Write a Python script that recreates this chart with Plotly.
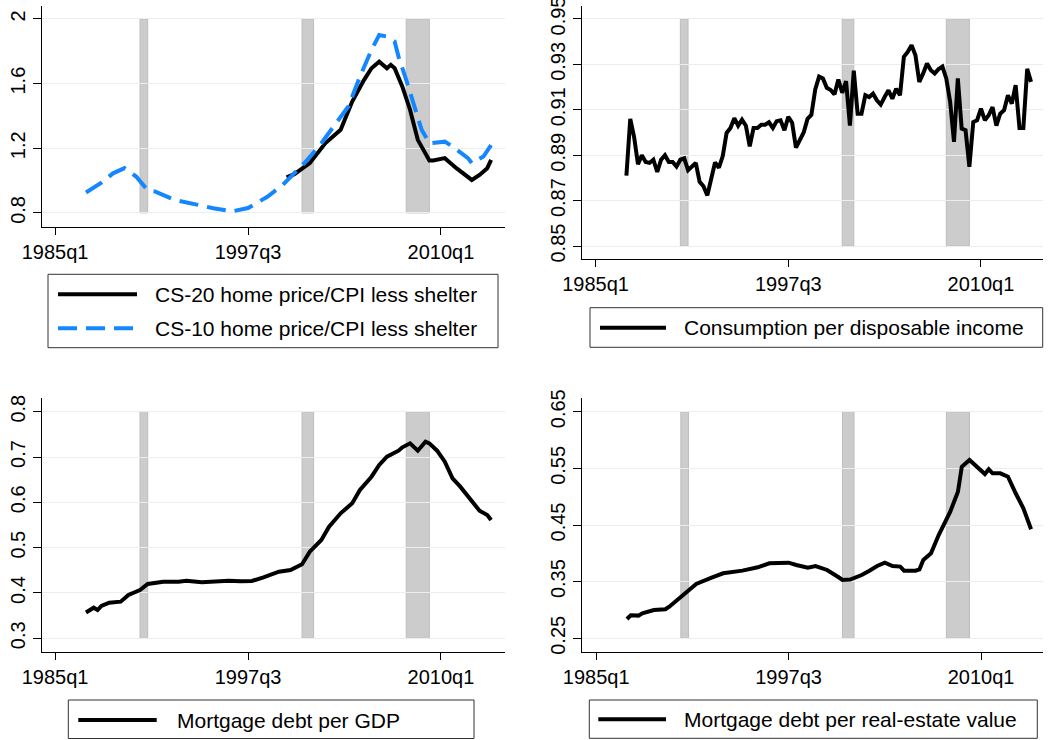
import plotly.graph_objects as go

W, H = 1059, 740
FONT = "Liberation Sans, Arial, Helvetica, sans-serif"

# ---------------- data (quarter index: 1960q1 = 0, so 1985q1 = 100) ----------------
tick_quarters = [100, 150, 200]
tick_labels = ["1985q1", "1997q3", "2010q1"]

# recessions (start quarter, end quarter): 1990q3-1991q1, 2001q1-2001q4, 2007q4-2009q2
rec_start = [122, 164, 191]
rec_end = [124, 167, 197]

# CS-10 home price / CPI less shelter
cs10_q = [108, 112, 115, 118, 121, 124, 126, 131, 137, 141, 146, 150, 155, 159, 162, 165,
          169, 172, 176, 179, 182, 184, 186, 188, 189, 191, 193, 195, 197, 201, 203, 207,
          208, 211, 213]
cs10_v = [0.926, 0.987, 1.045, 1.077, 1.025, 0.94, 0.932, 0.88, 0.85, 0.829, 0.81, 0.83,
          0.90, 0.973, 1.046, 1.118, 1.231, 1.324, 1.458, 1.643, 1.808, 1.901, 1.891, 1.86,
          1.767, 1.623, 1.458, 1.314, 1.231, 1.241, 1.21, 1.139, 1.108, 1.149, 1.22]

# CS-20 home price / CPI less shelter
cs20_q = [160, 162, 166, 170, 174, 177, 180, 182, 184, 186, 187, 188, 190, 192, 194, 195,
          197, 198, 201, 204, 208, 210, 212, 213]
cs20_v = [1.02, 1.04, 1.108, 1.231, 1.314, 1.489, 1.62, 1.695, 1.736, 1.695, 1.716, 1.695,
          1.581, 1.437, 1.252, 1.21, 1.124, 1.124, 1.139, 1.077, 1.004, 1.035, 1.077, 1.128]

# Consumption per disposable income (quarterly, 1987q1 - 2013q2)
cons_q = list(range(108, 214))
cons_v = [0.881, 0.906, 0.898, 0.886, 0.890, 0.887, 0.8866, 0.888, 0.8826, 0.888,
          0.890, 0.887, 0.887, 0.885, 0.888, 0.8886, 0.8834, 0.885, 0.8866, 0.8783,
          0.8763, 0.8723, 0.8788, 0.8868, 0.8845, 0.8896, 0.8998, 0.902, 0.9063, 0.903,
          0.9056, 0.903, 0.8939, 0.902, 0.902, 0.9034, 0.9034, 0.9045, 0.902, 0.905,
          0.9054, 0.901, 0.9069, 0.9043, 0.8933, 0.897, 0.900, 0.906, 0.9078, 0.919,
          0.9246, 0.9238, 0.9197, 0.9187, 0.9168, 0.9233, 0.9175, 0.9226, 0.903, 0.9272,
          0.9083, 0.9083, 0.9164, 0.9156, 0.9171, 0.9142, 0.9123, 0.9156, 0.9186, 0.9149,
          0.9193, 0.9164, 0.9333, 0.9355, 0.9384, 0.934, 0.9223, 0.926, 0.9304, 0.9274,
          0.926, 0.9279, 0.929, 0.9238, 0.9136, 0.8959, 0.9238, 0.9017, 0.901, 0.8849,
          0.9046, 0.9054, 0.9105, 0.9054, 0.9076, 0.9112, 0.903, 0.9083, 0.9098, 0.9164,
          0.9127, 0.9208, 0.902, 0.902, 0.928, 0.9223]

# Mortgage debt per GDP
mgdp_q = [108, 110, 111, 112, 114, 117, 119, 122, 124, 126, 128, 132, 134, 138, 141, 145,
          148, 151, 154, 158, 161, 164, 166, 169, 171, 174, 177, 179, 182, 184, 186, 189,
          190, 192, 194, 196, 197, 199, 201, 203, 205, 208, 210, 212, 213]
mgdp_v = [0.357, 0.3675, 0.3624, 0.3713, 0.3786, 0.3808, 0.3955, 0.4066, 0.4198, 0.4227,
          0.4249, 0.4249, 0.4271, 0.4235, 0.4257, 0.4271, 0.4257, 0.4264, 0.4345, 0.447,
          0.4507, 0.4632, 0.4911, 0.5169, 0.5463, 0.5758, 0.5979, 0.6272, 0.6566, 0.6824,
          0.7007, 0.714, 0.7214, 0.7302, 0.714, 0.7338, 0.7302, 0.714, 0.6897, 0.653,
          0.6346, 0.6015, 0.5816, 0.5721, 0.561]

# Mortgage debt per real-estate value
mre_q = [108, 109, 111, 112, 115, 118, 119, 121, 124, 126, 130, 133, 138, 142, 145, 150,
         152, 155, 157, 160, 163, 164, 166, 169, 171, 173, 175, 177, 179, 180, 183, 184,
         185, 187, 189, 192, 194, 195, 197, 198, 200, 201, 202, 203, 205, 207, 209, 211,
         213]
mre_v = [0.284, 0.2906, 0.290, 0.2941, 0.300, 0.3012, 0.3058, 0.3176, 0.3353, 0.3459,
         0.357, 0.3647, 0.3694, 0.3753, 0.3824, 0.3835, 0.3794, 0.3746, 0.3776, 0.3706,
         0.3577, 0.353, 0.3536, 0.3617, 0.3694, 0.3776, 0.3835, 0.3776, 0.3765, 0.3694,
         0.3694, 0.3718, 0.3882, 0.40, 0.4323, 0.4735, 0.5088, 0.5529, 0.5647, 0.5589,
         0.5459, 0.54, 0.5483, 0.5412, 0.5412, 0.5353, 0.506, 0.4795, 0.4424]

# y ticks per panel
yt1 = [0.8, 1.2, 1.6, 2.0]
yt1_lab = ["0.8", "1.2", "1.6", "2"]
yt2 = [0.85, 0.87, 0.89, 0.91, 0.93, 0.95]
yt2_lab = ["0.85", "0.87", "0.89", "0.91", "0.93", "0.95"]
yt3 = [0.3, 0.4, 0.5, 0.6, 0.7, 0.8]
yt3_lab = ["0.3", "0.4", "0.5", "0.6", "0.7", "0.8"]
yt4 = [0.25, 0.35, 0.45, 0.55, 0.65]
yt4_lab = ["0.25", "0.35", "0.45", "0.55", "0.65"]

# ---------------- styling ----------------
BLACK = "#000000"
BLUE = "#1487ff"
GRID = "#e6eff1"
REC_FILL = "#cccccc"
REC_LINE = "#bdbdbd"


def px_x(p):
    return p / W


def px_y(p):
    return 1 - p / H


fig = go.Figure()

panels = [
    ("x", "y", (42, 505), (6, 227), (96.6, 216.6), (0.713, 2.08), yt1, yt1_lab),
    ("x2", "y2", (581.7, 1043), (6, 259), (96.4, 216.1), (0.8443, 0.9557), yt2, yt2_lab),
    ("x3", "y3", (42, 505), (398.3, 651.7), (96.6, 216.6), (0.2704, 0.8296), yt3, yt3_lab),
    ("x4", "y4", (582.3, 1043), (398.3, 651.7), (96.4, 216.1), (0.2263, 0.6737), yt4, yt4_lab),
]

layout_axes = {}
shapes = []
for xa, ya, (xl, xr), (yt, yb), xrng, yrng, ytv, ytl in panels:
    xkey = "xaxis" + xa[1:]
    ykey = "yaxis" + ya[1:]
    layout_axes[xkey] = dict(
        domain=[px_x(xl), px_x(xr)], range=list(xrng), anchor=ya, automargin=False,
        tickvals=tick_quarters, ticktext=tick_labels, ticks="outside", ticklen=7,
        tickwidth=1, tickcolor=BLACK, showgrid=False, zeroline=False,
        showline=True, linecolor=BLACK, linewidth=1, ticklabeloverflow="allow",
        tickfont=dict(family=FONT, size=20, color=BLACK),
    )
    layout_axes[ykey] = dict(
        domain=[px_y(yb), px_y(yt)], range=list(yrng), anchor=xa, automargin=False,
        tickvals=ytv, ticktext=ytl, ticks="outside", ticklen=8, tickwidth=1,
        tickcolor=BLACK, showgrid=True, gridcolor=GRID, gridwidth=1, zeroline=False,
        showline=True, linecolor=BLACK, linewidth=1, tickangle=-90,
        ticklabeloverflow="allow",
        tickfont=dict(family=FONT, size=20, color=BLACK),
    )
    for s, e in zip(rec_start, rec_end):
        shapes.append(dict(type="rect", xref=xa, yref=ya, x0=s, x1=e, y0=min(ytv), y1=max(ytv),
                           fillcolor=REC_FILL, line=dict(color=REC_LINE, width=1), layer="below"))

# traces
fig.add_trace(go.Scatter(x=cs20_q, y=cs20_v, mode="lines", xaxis="x", yaxis="y",
                         line=dict(color=BLACK, width=4), showlegend=False))
fig.add_trace(go.Scatter(x=cs10_q, y=cs10_v, mode="lines", xaxis="x", yaxis="y",
                         line=dict(color=BLUE, width=4, dash="19px,9px"), showlegend=False))
fig.add_trace(go.Scatter(x=cons_q, y=cons_v, mode="lines", xaxis="x2", yaxis="y2",
                         line=dict(color=BLACK, width=4), showlegend=False))
fig.add_trace(go.Scatter(x=mgdp_q, y=mgdp_v, mode="lines", xaxis="x3", yaxis="y3",
                         line=dict(color=BLACK, width=4), showlegend=False))
fig.add_trace(go.Scatter(x=mre_q, y=mre_v, mode="lines", xaxis="x4", yaxis="y4",
                         line=dict(color=BLACK, width=4), showlegend=False))

# manual legends (Stata-style boxes)
legends = [
    ((48, 274.3, 498, 347.7), [(58, 137, 294.3, "CS-20 home price/CPI less shelter", BLACK, "solid", 153),
                               (58, 137, 328.3, "CS-10 home price/CPI less shelter", BLUE, "19px,9px", 153)]),
    ((590, 307.7, 1042.7, 347.3), [(600, 666, 327.7, "Consumption per disposable income", BLACK, "solid", 681.7)]),
    ((68.3, 700, 474, 738.5), [(78.3, 156.7, 720, "Mortgage debt per GDP", BLACK, "solid", 175)]),
    ((589.3, 700, 1037.3, 738.3), [(598.3, 666, 719.3, "Mortgage debt per real-estate value", BLACK, "solid", 681.7)]),
]
annotations = []
for (bx0, by0, bx1, by1), entries in legends:
    shapes.append(dict(type="rect", xref="paper", yref="paper", x0=px_x(bx0), x1=px_x(bx1),
                       y0=px_y(by1), y1=px_y(by0), line=dict(color="#333333", width=1),
                       fillcolor="rgba(0,0,0,0)"))
    for lx0, lx1, ly, txt, col, dash, tx in entries:
        shapes.append(dict(type="line", xref="paper", yref="paper", x0=px_x(lx0), x1=px_x(lx1),
                           y0=px_y(ly), y1=px_y(ly), line=dict(color=col, width=4, dash=dash)))
        annotations.append(dict(xref="paper", yref="paper", x=px_x(tx), y=px_y(ly), text=txt,
                                showarrow=False, xanchor="left", yanchor="middle",
                                font=dict(family=FONT, size=21, color=BLACK)))

fig.update_layout(
    width=W, height=H, margin=dict(l=0, r=0, t=0, b=0, autoexpand=False),
    paper_bgcolor="white", plot_bgcolor="white",
    shapes=shapes, annotations=annotations, showlegend=False,
    **layout_axes,
)

fig.write_html(
    "out.html",
    config={"displayModeBar": False},
    post_script="document.body.style.margin='0px';document.body.style.padding='0px';"
                "document.body.style.overflow='hidden';",
)
